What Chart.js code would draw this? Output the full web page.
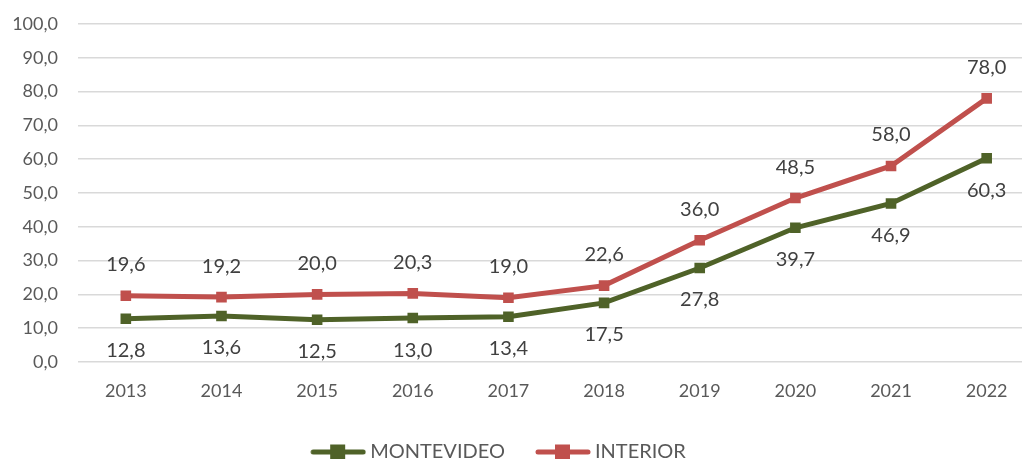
<!DOCTYPE html>
<html>
<head>
<meta charset="utf-8">
<script src="https://cdn.jsdelivr.net/npm/chart.js@4/dist/chart.umd.min.js"></script>
<style>
html,body{margin:0;padding:0;background:#fff;overflow:hidden;}
</style>
</head>
<body>
<canvas id="c" width="1042" height="459" style="width:1042px;height:459px;display:block"></canvas>
<script>
const categories = ['2013','2014','2015','2016','2017','2018','2019','2020','2021','2022'];
const montevideo = [12.8, 13.6, 12.5, 13.0, 13.4, 17.5, 27.8, 39.7, 46.9, 60.3];
const interior   = [19.6, 19.2, 20.0, 20.3, 19.0, 22.6, 36.0, 48.5, 58.0, 78.0];
const seriesNames = ['MONTEVIDEO', 'INTERIOR'];
const GREEN = '#4F6228', RED = '#C0504D';
const FONT = 'Lato, "Open Sans", sans-serif';

// legend icon: transparent left margin (36) + line with square marker (56)
function legendIcon(color){
  const c = document.createElement('canvas');
  c.width = 92; c.height = 16;
  const g = c.getContext('2d');
  const o = 36;
  g.strokeStyle = color; g.lineWidth = 5; g.lineCap = 'round';
  g.beginPath(); g.moveTo(o + 3, 8); g.lineTo(o + 53, 8); g.stroke();
  g.fillStyle = color; g.fillRect(o + 20, 0.5, 15, 15);
  return c;
}
const fmt = v => v.toFixed(1).replace('.', ',');

const labelPlugin = {
  id: 'valueLabels',
  afterDatasetsDraw(chart){
    const ctx = chart.ctx;
    ctx.save();
    ctx.font = '20px ' + FONT;
    ctx.fillStyle = '#404040';
    ctx.textAlign = 'center';
    ctx.textBaseline = 'middle';
    chart.data.datasets.forEach((ds, i) => {
      const meta = chart.getDatasetMeta(i);
      const above = ds.labelPos === 'above';
      meta.data.forEach((pt, j) => {
        const y = above ? pt.y - 31 : pt.y + 32;
        ctx.fillText(fmt(ds.data[j]), pt.x, y);
      });
    });
    ctx.restore();
  }
};

const legendShift = {
  id: 'legendShift',
  afterLayout(chart){
    if (chart.legend) { chart.legend.left -= 38; chart.legend.right -= 38; }
  }
};

new Chart(document.getElementById('c'), {
  type: 'line',
  data: {
    labels: categories,
    datasets: [
      {label: seriesNames[0], data: montevideo, borderColor: GREEN, backgroundColor: GREEN,
       borderWidth: 5, pointStyle: 'rect', pointRadius: 7.5, pointHoverRadius: 7.5,
       pointBackgroundColor: GREEN, pointBorderWidth: 0, tension: 0, labelPos: 'below',
       legendIcon: legendIcon(GREEN)},
      {label: seriesNames[1], data: interior, borderColor: RED, backgroundColor: RED,
       borderWidth: 5, pointStyle: 'rect', pointRadius: 7.5, pointHoverRadius: 7.5,
       pointBackgroundColor: RED, pointBorderWidth: 0, tension: 0, labelPos: 'above',
       legendIcon: legendIcon(RED)}
    ]
  },
  options: {
    responsive: false,
    animation: false,
    devicePixelRatio: 1,
    layout: {padding: {top: 24, right: 0, left: 0, bottom: -13}},
    plugins: {
      tooltip: {enabled: false},
      legend: {
        position: 'bottom',
        labels: {
          usePointStyle: true,
          pointStyleWidth: 80,
          font: {family: FONT, size: 20},
          color: '#595959',
          padding: 0,
          boxHeight: 16,
          generateLabels(chart){
            return chart.data.datasets.map((ds, i) => ({
              text: ds.label, pointStyle: ds.legendIcon, fillStyle: ds.borderColor,
              strokeStyle: ds.borderColor, lineWidth: 0, hidden: false, datasetIndex: i,
              fontColor: '#595959'
            }));
          }
        }
      }
    },
    scales: {
      x: {
        offset: true,
        afterFit(scale){ scale.height = 80; },
        grid: {display: false},
        border: {display: false},
        ticks: {color: '#595959', font: {family: FONT, size: 18}, padding: 10}
      },
      y: {
        min: 0, max: 100,
        afterFit(scale){ scale.width = 78; scale.paddingTop = 0; scale.paddingBottom = 0; },
        grid: {color: '#D9D9D9', lineWidth: 1.5, drawTicks: false},
        border: {display: false},
        ticks: {stepSize: 10, color: '#595959', font: {family: FONT, size: 18}, padding: 20,
                callback: v => fmt(v)}
      }
    }
  },
  plugins: [labelPlugin, legendShift]
});
</script>
</body>
</html>
